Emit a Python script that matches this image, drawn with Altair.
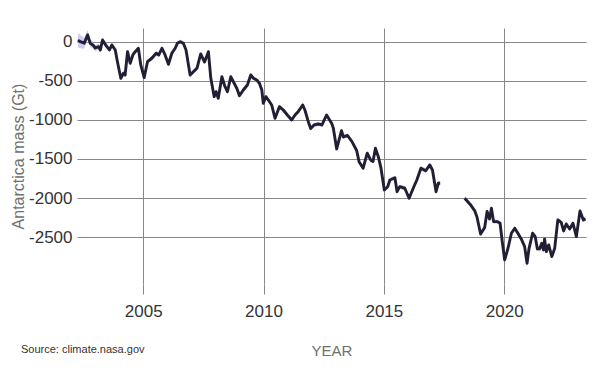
import altair as alt
import pandas as pd

# GRACE (2002-2017) segment
years_grace = [
    2002.29, 2002.39, 2002.55, 2002.69, 2002.80, 2002.91, 2003.01, 2003.15, 2003.22, 2003.31,
    2003.46, 2003.60, 2003.70, 2003.84, 2003.93, 2004.07, 2004.18, 2004.25, 2004.35, 2004.46,
    2004.57, 2004.67, 2004.80, 2004.90, 2005.04, 2005.18, 2005.36, 2005.54, 2005.65, 2005.78,
    2005.91, 2006.05, 2006.19, 2006.33, 2006.42, 2006.54, 2006.67, 2006.78, 2006.95, 2007.16,
    2007.24, 2007.39, 2007.55, 2007.71, 2007.81, 2007.95, 2008.03, 2008.12, 2008.27, 2008.40,
    2008.50, 2008.64, 2008.78, 2008.89, 2009.00, 2009.16, 2009.33, 2009.47, 2009.58, 2009.72,
    2009.83, 2009.93, 2009.99, 2010.10, 2010.20, 2010.34, 2010.48, 2010.66, 2010.82, 2010.99,
    2011.17, 2011.31, 2011.44, 2011.63, 2011.72, 2011.86, 2011.96, 2012.10, 2012.27, 2012.43,
    2012.62, 2012.83, 2012.90, 2013.04, 2013.24, 2013.32, 2013.49, 2013.67, 2013.87, 2013.97,
    2014.14, 2014.31, 2014.45, 2014.55, 2014.65, 2014.77, 2014.88, 2015.02, 2015.16, 2015.25,
    2015.46, 2015.55, 2015.66, 2015.87, 2016.05, 2016.22, 2016.37, 2016.54, 2016.74, 2016.91,
    2017.02, 2017.17, 2017.26, 2017.34,
]
mass_grace = [
    20, 0, -20, 86, -20, -42, -81, -64, -106, 22,
    -51, -106, -42, -106, -256, -468, -404, -426, -128, -276,
    -170, -128, -84, -298, -460, -256, -212, -148, -170, -84,
    -170, -289, -148, -84, -20, 0, -20, -106, -426, -362,
    -336, -157, -260, -128, -468, -703, -640, -724, -448, -576,
    -640, -448, -532, -596, -691, -618, -554, -426, -468, -490,
    -532, -618, -788, -703, -746, -810, -980, -831, -874, -938,
    -1001, -938, -895, -810, -874, -1023, -1110, -1065, -1053, -1065,
    -938, -1044, -1104, -1372, -1138, -1219, -1200, -1276, -1392, -1535,
    -1619, -1427, -1513, -1532, -1363, -1471, -1615, -1897, -1855, -1769,
    -1741, -1919, -1855, -1875, -2003, -1875, -1769, -1619, -1651, -1577,
    -1641, -1919, -1811, -1811,
]
unc_grace = [
    95, 85, 70, 60, 50, 45, 40, 36, 34, 32,
    30, 30, 30, 30, 30, 30, 30, 30, 30, 30,
    28, 28, 28, 28, 28, 28, 28, 28, 28, 28,
    28, 28, 28, 28, 28, 28, 28, 28, 28, 28,
    26, 26, 26, 26, 26, 26, 26, 26, 26, 26,
    26, 26, 26, 26, 26, 26, 26, 26, 26, 26,
    26, 26, 26, 26, 26, 26, 26, 26, 26, 26,
    26, 26, 26, 26, 26, 26, 26, 26, 26, 26,
    26, 26, 26, 26, 26, 26, 26, 26, 26, 26,
    26, 26, 26, 26, 26, 26, 26, 26, 26, 26,
    28, 28, 28, 28, 28, 28, 28, 28, 28, 28,
    30, 30, 30, 30,
]

# GRACE-FO (2018-2023) segment
years_fo = [
    2018.36, 2018.59, 2018.78, 2018.87, 2019.02, 2019.19, 2019.29, 2019.39, 2019.47, 2019.56,
    2019.72, 2019.83, 2019.92, 2020.02, 2020.16, 2020.30, 2020.44, 2020.55, 2020.71, 2020.85,
    2020.95, 2021.03, 2021.18, 2021.29, 2021.38, 2021.47, 2021.56, 2021.63, 2021.68, 2021.75,
    2021.85, 2021.98, 2022.10, 2022.23, 2022.37, 2022.47, 2022.58, 2022.72, 2022.86, 2023.00,
    2023.15, 2023.29, 2023.38,
]
mass_fo = [
    -2003, -2082, -2165, -2242, -2460, -2376, -2172, -2268, -2131, -2302,
    -2302, -2323, -2558, -2792, -2642, -2451, -2387, -2440, -2523, -2622,
    -2834, -2651, -2451, -2494, -2651, -2651, -2579, -2664, -2523, -2686,
    -2600, -2750, -2642, -2280, -2312, -2421, -2332, -2396, -2323, -2494,
    -2165, -2280, -2267,
]
unc_fo = [
    28, 28, 28, 28, 28, 28, 28, 28, 28, 28,
    28, 28, 28, 28, 28, 28, 28, 28, 28, 28,
    28, 28, 28, 28, 28, 28, 28, 28, 28, 28,
    28, 28, 28, 28, 28, 28, 28, 28, 28, 28,
    30, 30, 30,
]

x_ticks = [2005, 2010, 2015, 2020]
y_ticks = [0, -500, -1000, -1500, -2000, -2500]
source_text = ["Source: climate.nasa.gov"]

years = years_grace + years_fo
mass = mass_grace + mass_fo
unc = unc_grace + unc_fo
mission = ["GRACE"] * len(years_grace) + ["GRACE-FO"] * len(years_fo)

df = pd.DataFrame({"year": years, "mass": mass, "unc": unc, "mission": mission})
df["lo"] = df["mass"] - df["unc"]
df["hi"] = df["mass"] + df["unc"]

FONT = "Liberation Sans"

x_axis = alt.Axis(
    values=x_ticks, format="d", title="YEAR", grid=True, domain=False,
    ticks=True, tickSize=10, tickColor="#888888", tickWidth=1,
    gridColor="#888888", gridWidth=1,
    labelFontSize=17, labelColor="#333333", labelPadding=9, labelFont=FONT,
    titleFontSize=15, titleColor="#707070", titleFontWeight="normal", titleFont=FONT,
    titleY=71, titleBaseline="alphabetic",
)
y_axis = alt.Axis(
    values=y_ticks, labelExpr="'' + datum.value", title="Antarctica mass (Gt)",
    grid=True, domain=False, ticks=False,
    gridColor="#888888", gridWidth=1,
    labelFontSize=17, labelColor="#333333", labelPadding=5, labelFont=FONT,
    titleFontSize=16, titleColor="#707070", titleFontWeight="normal", titleFont=FONT,
    titleAngle=270, titleX=-59, titleY=128, titleBaseline="middle", titleAlign="center",
)
x_scale = alt.Scale(domain=[2002.25, 2023.4], nice=False, zero=False)
y_scale = alt.Scale(domain=[-3100, 175], nice=False, zero=False)

band = alt.Chart(df).mark_area(color="#c4bfee", opacity=0.8).encode(
    x=alt.X("year:Q", scale=x_scale, axis=x_axis),
    y=alt.Y("lo:Q", scale=y_scale, axis=y_axis),
    y2="hi:Q",
    detail="mission:N",
)

line = alt.Chart(df).mark_line(color="#211f33", strokeWidth=2.9, strokeJoin="round").encode(
    x=alt.X("year:Q", scale=x_scale, axis=x_axis),
    y=alt.Y("mass:Q", scale=y_scale, axis=y_axis),
    detail="mission:N",
)

src = alt.Chart(pd.DataFrame({"t": source_text})).mark_text(
    align="left", baseline="alphabetic", fontSize=11, color="#333333", font=FONT
).encode(
    text="t:N",
    x=alt.value(-56),
    y=alt.value(325),
)

chart = alt.layer(band, line, src).properties(
    width=509,
    height=256,
    autosize=alt.AutoSizeParams(type="none"),
    padding={"left": 69, "top": 20, "right": 6, "bottom": 80},
).configure(font=FONT).configure_view(stroke=None)

chart.save("out.html", embed_options={"renderer": "svg", "actions": False})
